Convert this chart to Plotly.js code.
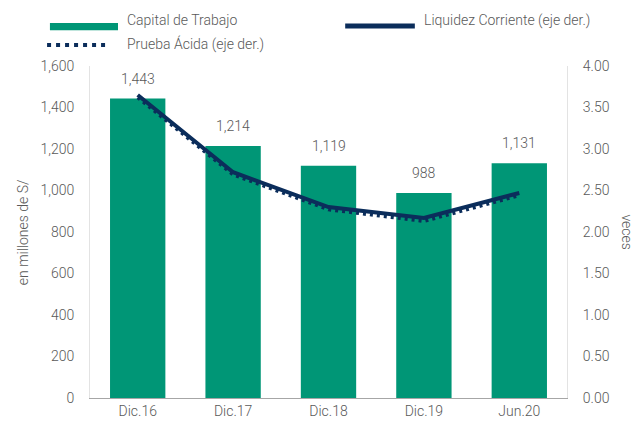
<!DOCTYPE html>
<html><head><meta charset="utf-8">
<script src="https://cdn.plot.ly/plotly-3.0.1.min.js"></script>
<style>html,body{margin:0;padding:0;background:#fff}#c{width:640px;height:428px}</style>
</head><body><div id="c"></div>
<script>
const categories = ["Dic.16","Dic.17","Dic.18","Dic.19","Jun.20"];
const capitalTrabajo = [1443, 1214, 1119, 988, 1131];
const liquidezCorriente = [3.65, 2.72, 2.30, 2.17, 2.47];
const pruebaAcida = [3.62, 2.69, 2.27, 2.13, 2.44];
const leftTicks = [0,200,400,600,800,1000,1200,1400,1600];
const rightTicks = [0,0.5,1,1.5,2,2.5,3,3.5,4];

const FONT = 'Roboto, "Liberation Sans", sans-serif';
const GRAY = '#595959';
const GREEN = '#009676';
const NAVY = '#0b2d5b';
const F = {family:FONT, size:14, color:GRAY, weight:300};

const traces = [
  {type:'bar', x:categories, y:capitalTrabajo, name:'Capital de Trabajo',
   marker:{color:GREEN}, width:0.58, showlegend:false, hoverinfo:'skip'},
  {type:'scatter', mode:'lines', x:categories, y:pruebaAcida, yaxis:'y2', name:'Prueba Ácida (eje der.)',
   line:{color:NAVY, width:3.5, dash:'3px,4px'}, showlegend:false},
  {type:'scatter', mode:'lines', x:categories, y:liquidezCorriente, yaxis:'y2', name:'Liquidez Corriente (eje der.)',
   line:{color:NAVY, width:4}, showlegend:false}
];

const barLabels = categories.map((c,i)=>({
  x:c, y:capitalTrabajo[i], xref:'x', yref:'y', yanchor:'bottom', yshift:10, showarrow:false,
  text:capitalTrabajo[i].toLocaleString('en-US'), font:F
}));

const layout = {
  width:640, height:428,
  margin:{l:90, r:73, t:66, b:30},
  paper_bgcolor:'#fff', plot_bgcolor:'#fff',
  font:F,
  xaxis:{type:'category', showline:true, linecolor:'#a6a6a6', linewidth:1, ticks:'',
         tickfont:F, showgrid:false, zeroline:false},
  yaxis:{range:[0,1600], tickvals:leftTicks, ticktext:leftTicks.map(v=>v.toLocaleString('en-US')),
         showgrid:false, zeroline:false, showline:true, linecolor:'#e3e3e3', linewidth:1,
         ticks:'', ticklabelstandoff:12, tickfont:F, automargin:false},
  yaxis2:{range:[0,4], overlaying:'y', side:'right', tickvals:rightTicks,
          ticktext:rightTicks.map(v=>v.toFixed(2)), showgrid:false, zeroline:false,
          showline:true, linecolor:'#e3e3e3', linewidth:1, ticks:'', ticklabelstandoff:12,
          tickfont:F, automargin:false},
  shapes:[
    {type:'rect', xref:'paper', yref:'paper', x0:-0.084, x1:0.0587, y0:1.108, y1:1.1295, fillcolor:GREEN, line:{width:0}},
    {type:'line', xref:'paper', yref:'paper', x0:0.535, x1:0.681, y0:1.1205, y1:1.1205, line:{color:NAVY, width:5}},
    {type:'line', xref:'paper', yref:'paper', x0:-0.09, x1:0.042, y0:1.063, y1:1.063, line:{color:NAVY, width:4, dash:'4px,5px'}}
  ],
  annotations:barLabels.concat([
    {xref:'paper', yref:'paper', x:0.073, y:1.138, xanchor:'left', yanchor:'middle', showarrow:false,
     text:'Capital de Trabajo', font:F},
    {xref:'paper', yref:'paper', x:0.696, y:1.138, xanchor:'left', yanchor:'middle', showarrow:false,
     text:'Liquidez Corriente (eje der.)', font:F},
    {xref:'paper', yref:'paper', x:0.073, y:1.066, xanchor:'left', yanchor:'middle', showarrow:false,
     text:'Prueba Ácida (eje der.)', font:F},
    {xref:'paper', yref:'paper', x:-0.14, y:0.5, xanchor:'center', yanchor:'middle', showarrow:false,
     textangle:-90, text:'en millones de S/', font:F},
    {xref:'paper', yref:'paper', x:1.125, y:0.5, xanchor:'center', yanchor:'middle', showarrow:false,
     textangle:90, text:'veces', font:F}
  ])
};
Plotly.newPlot('c', traces, layout, {displayModeBar:false, staticPlot:true});
</script></body></html>
